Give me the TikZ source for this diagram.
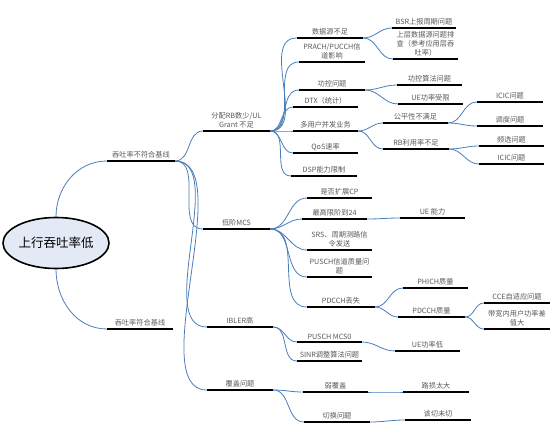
\documentclass[tikz,border=0pt]{standalone}
\usepackage{fontspec}
\setmainfont{Noto Sans CJK SC}
\usepackage{tikz}
\usetikzlibrary{shapes.geometric}
\usetikzlibrary{positioning}
\definecolor{linkblue}{RGB}{74,126,187}
\definecolor{textgray}{RGB}{88,88,88}
\definecolor{rootfill}{RGB}{227,234,245}

\begin{document}
\begin{tikzpicture}[x=1pt, y=1pt,
    root/.style={draw, ellipse, line width=1.6pt, fill=rootfill, minimum width=104pt, minimum height=51pt, inner sep=0pt, font=\fontsize{12.5}{14}\selectfont},
    topic/.style={anchor=south, align=center, text=textgray, inner xsep=0.5pt, inner ysep=2.3pt, minimum width=65pt, font=\fontsize{7.2}{9}\selectfont,
        append after command={(\tikzlastnode.south west) edge[bar] (\tikzlastnode.south east)}},
    bar/.style={draw=black, line width=2.6pt},
    link/.style={draw=linkblue, line width=0.8pt}]
    \useasboundingbox (0,0) rectangle (554,437);
    % root and first level
    \node[root] (root) at (56,194) {上行吞吐率低};
    \node[topic, minimum width=68pt] (base1) at (141,276) {吞吐率不符合基线};
    \node[topic, minimum width=66pt] (base2) at (140,108) {吞吐率符合基线};
    \draw[link] (root.north) to[out=90, in=180] (base1.south west);
    \draw[link] (root.south) to[out=-90, in=180] (base2.south west);
    % second level
    \node[topic, minimum width=67pt] (rb) at (236.5,306) {分配RB数少/UL\\Grant 不足};
    \node[topic, minimum width=67pt] (mcs) at (236.5,208) {低阶MCS};
    \node[topic, minimum width=66pt] (bler) at (240,110) {IBLER高};
    \node[topic, minimum width=66pt] (cov) at (240,47) {覆盖问题};
    \draw[link] (base1.south east) to[out=0, in=180] (rb.south west);
    \draw[link] (base1.south east) to[out=0, in=180] (mcs.south west);
    \draw[link] (base1.south east) to[out=0, in=180, looseness=0.8] (bler.south west);
    \draw[link] (base1.south east) to[out=0, in=180, looseness=0.7] (cov.south west);
    % RB / grant branch
    \node[topic, minimum width=66pt] (src) at (330,399) {数据源不足};
    \node[topic, minimum width=66pt] (prach) at (332,375) {PRACH/PUCCH信\\道影响};
    \node[topic, minimum width=66pt] (pc) at (332,347) {功控问题};
    \node[topic] (dtx) at (325.5,330) {DTX（统计）};
    \node[topic] (multi) at (325.5,306) {多用户并发业务};
    \node[topic] (qos) at (325.5,284) {QoS速率};
    \node[topic, minimum width=66pt] (dsp) at (324,261) {DSP能力限制};
    \draw[link] (rb.south east) to[out=0, in=180] (src.south west);
    \draw[link] (rb.south east) to[out=0, in=180] (prach.south west);
    \draw[link] (rb.south east) to[out=0, in=180] (pc.south west);
    \draw[link] (rb.south east) to[out=0, in=180] (dtx.south west);
    \draw[link] (rb.south east) to[out=0, in=180] (multi.south west);
    \draw[link] (rb.south east) to[out=0, in=180] (qos.south west);
    \draw[link] (rb.south east) to[out=0, in=180] (dsp.south west);
    \node[topic, minimum width=64pt] (bsr) at (424,409) {BSR上报周期问题};
    \node[topic] (upper) at (425.5,378) {上层数据源问题排\\查（参考应用层吞\\吐率）};
    \draw[link] (src.south east) to[out=0, in=180] (bsr.south west);
    \draw[link] (src.south east) to[out=0, in=180] (upper.south west);
    \node[topic] (pcalg) at (429.5,352) {功控算法问题};
    \node[topic] (uelim) at (430.5,333) {UE功率受限};
    \draw[link] (pc.south east) to[out=0, in=180] (pcalg.south west);
    \draw[link] (pc.south east) to[out=0, in=180] (uelim.south west);
    \node[topic] (fair) at (415.5,314) {公平性不满足};
    \node[topic, minimum width=66pt] (rbuse) at (416,288) {RB利用率不足};
    \draw[link] (multi.south east) to[out=0, in=180] (fair.south west);
    \draw[link] (multi.south east) to[out=0, in=180] (rbuse.south west);
    \node[topic, minimum width=66pt] (icica) at (510,335) {ICIC问题};
    \node[topic, minimum width=66pt] (sched) at (510,311) {调度问题};
    \draw[link] (fair.south east) to[out=0, in=180] (icica.south west);
    \draw[link] (fair.south east) to[out=0, in=180] (sched.south west);
    \node[topic] (fsel) at (511.5,291) {频选问题};
    \node[topic] (icicb) at (511.5,273) {ICIC问题};
    \draw[link] (rbuse.south east) to[out=0, in=180] (fsel.south west);
    \draw[link] (rbuse.south east) to[out=0, in=180] (icicb.south west);
    % low MCS branch
    \node[topic] (ecp) at (339.5,239) {是否扩展CP};
    \node[topic] (max) at (334.5,218) {最高限阶到24};
    \node[topic] (srs) at (339.5,187) {SRS、周期测路信\\令发送};
    \node[topic] (pusch) at (339.5,160) {PUSCH信道质量问\\题};
    \node[topic, minimum width=68pt] (pdcch) at (341,130) {PDCCH丢失};
    \draw[link] (mcs.south east) to[out=0, in=180] (ecp.south west);
    \draw[link] (mcs.south east) to[out=0, in=180] (max.south west);
    \draw[link] (mcs.south east) to[out=0, in=180] (srs.south west);
    \draw[link] (mcs.south east) to[out=0, in=180] (pusch.south west);
    \draw[link] (mcs.south east) to[out=0, in=180] (pdcch.south west);
    \node[topic] (uecap) at (432.5,219) {UE 能力};
    \draw[link] (max.south east) to[out=0, in=180] (uecap.south west);
    \node[topic] (phich) at (435.5,149) {PHICH质量};
    \node[topic, minimum width=67pt] (pdq) at (431.5,120) {PDCCH质量};
    \draw[link] (pdcch.south east) to[out=0, in=180] (phich.south west);
    \draw[link] (pdcch.south east) to[out=0, in=180] (pdq.south west);
    \node[topic, minimum width=66pt] (cce) at (517,134) {CCE自适应问题};
    \node[topic, minimum width=66pt] (bw) at (517,108) {带宽内用户功率差\\值大};
    \draw[link] (pdq.south east) to[out=0, in=180] (cce.south west);
    \draw[link] (pdq.south east) to[out=0, in=180] (bw.south west);
    % IBLER branch
    \node[topic] (mcs0) at (329.5,95) {PUSCH MCS0};
    \node[topic] (sinr) at (329.5,76) {SINR调整算法问题};
    \draw[link] (bler.south east) to[out=0, in=180] (mcs0.south west);
    \draw[link] (bler.south east) to[out=0, in=180] (sinr.south west);
    \node[topic] (uelow) at (427.5,86) {UE功率低};
    \draw[link] (mcs0.south east) to[out=0, in=180] (uelow.south west);
    % coverage branch
    \node[topic] (weak) at (335.5,45) {弱覆盖};
    \node[topic, minimum width=66pt] (ho) at (337,15) {切换问题};
    \draw[link] (cov.south east) to[out=0, in=180] (weak.south west);
    \draw[link] (cov.south east) to[out=0, in=180] (ho.south west);
    \node[topic, minimum width=66pt] (loss) at (436,45) {路损太大};
    \node[topic, minimum width=66pt] (miss) at (438,17) {该切未切};
    \draw[link] (weak.south east) to[out=0, in=180] (loss.south west);
    \draw[link] (ho.south east) to[out=0, in=180] (miss.south west);
\end{tikzpicture}
\end{document}
